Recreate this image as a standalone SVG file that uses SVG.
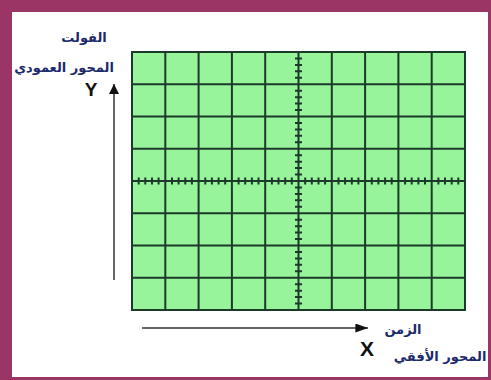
<svg xmlns="http://www.w3.org/2000/svg" width="491" height="380" viewBox="0 0 491 380">
<defs>
<style>
.grid{stroke:#1b3a2a;stroke-width:2;fill:none}
.tick{stroke:#1b3a2a;stroke-width:2}
.ar{font-family:"DejaVu Sans","Noto Sans",sans-serif;font-weight:bold;font-size:13px;fill:#1b2a6b;text-anchor:middle}
.lt{font-family:"Liberation Sans",Arial,sans-serif;font-weight:bold;fill:#111;text-anchor:middle}
.axis{stroke:#333;stroke-width:1.5;fill:none}
</style>
<marker id="ah" viewBox="0 0 10 10" refX="10" refY="5" markerWidth="10" markerHeight="10" markerUnits="userSpaceOnUse" orient="auto">
<path d="M0,0 L10,5 L0,10 z" fill="#111"/>
</marker>
<marker id="ahx" viewBox="0 0 14 10" refX="14" refY="5" markerWidth="14" markerHeight="9" markerUnits="userSpaceOnUse" orient="auto">
<path d="M0,0 L14,5 L0,10 z" fill="#111"/>
</marker>
</defs>
<rect x="0" y="0" width="491" height="380" fill="#9b3565"/>
<rect x="12" y="12" width="476" height="365" fill="#ffffff"/>
<g id="screen">
<rect x="132" y="52" width="333" height="258" fill="#98f49b"/>
<path class="grid" d="M132,52H465V310H132Z M165.3,52V310 M198.6,52V310 M231.9,52V310 M265.2,52V310 M298.5,52V310 M331.8,52V310 M365.1,52V310 M398.4,52V310 M431.7,52V310 M132,84.25H465 M132,116.5H465 M132,148.75H465 M132,181H465 M132,213.25H465 M132,245.5H465 M132,277.75H465"/>
<path class="tick" d="M138.7,177.5v7 M145.3,177.5v7 M152,177.5v7 M158.6,177.5v7 M172,177.5v7 M178.6,177.5v7 M185.3,177.5v7 M191.9,177.5v7 M205.3,177.5v7 M211.9,177.5v7 M218.6,177.5v7 M225.2,177.5v7 M238.6,177.5v7 M245.2,177.5v7 M251.9,177.5v7 M258.5,177.5v7 M271.9,177.5v7 M278.5,177.5v7 M285.2,177.5v7 M291.8,177.5v7 M305.2,177.5v7 M311.8,177.5v7 M318.5,177.5v7 M325.1,177.5v7 M338.5,177.5v7 M345.1,177.5v7 M351.8,177.5v7 M358.4,177.5v7 M371.8,177.5v7 M378.4,177.5v7 M385.1,177.5v7 M391.7,177.5v7 M405.1,177.5v7 M411.7,177.5v7 M418.4,177.5v7 M425,177.5v7 M438.4,177.5v7 M445,177.5v7 M451.7,177.5v7 M458.3,177.5v7"/>
<path class="tick" d="M295,58.45h7 M295,64.9h7 M295,71.35h7 M295,77.8h7 M295,90.7h7 M295,97.15h7 M295,103.6h7 M295,110.05h7 M295,122.95h7 M295,129.4h7 M295,135.85h7 M295,142.3h7 M295,155.2h7 M295,161.65h7 M295,168.1h7 M295,174.55h7 M295,187.45h7 M295,193.9h7 M295,200.35h7 M295,206.8h7 M295,219.7h7 M295,226.15h7 M295,232.6h7 M295,239.05h7 M295,251.95h7 M295,258.4h7 M295,264.85h7 M295,271.3h7 M295,284.2h7 M295,290.65h7 M295,297.1h7 M295,303.55h7"/>
</g>
<g id="connectors">
<line class="axis" x1="114" y1="280" x2="114" y2="84" marker-end="url(#ah)"/>
<line class="axis" x1="142" y1="328" x2="368" y2="328" marker-end="url(#ahx)"/>
</g>
<g id="y-label">
<text class="ar" x="84" y="42">الفولت</text>
<text class="ar" x="64" y="72">المحور العمودي</text>
<text class="lt" x="91" y="96" font-size="19">Y</text>
</g>
<g id="x-label">
<text class="ar" x="403" y="334">الزمن</text>
<text class="lt" x="367" y="356" font-size="21">X</text>
<text class="ar" x="440" y="361">المحور الأفقي</text>
</g>
</svg>
